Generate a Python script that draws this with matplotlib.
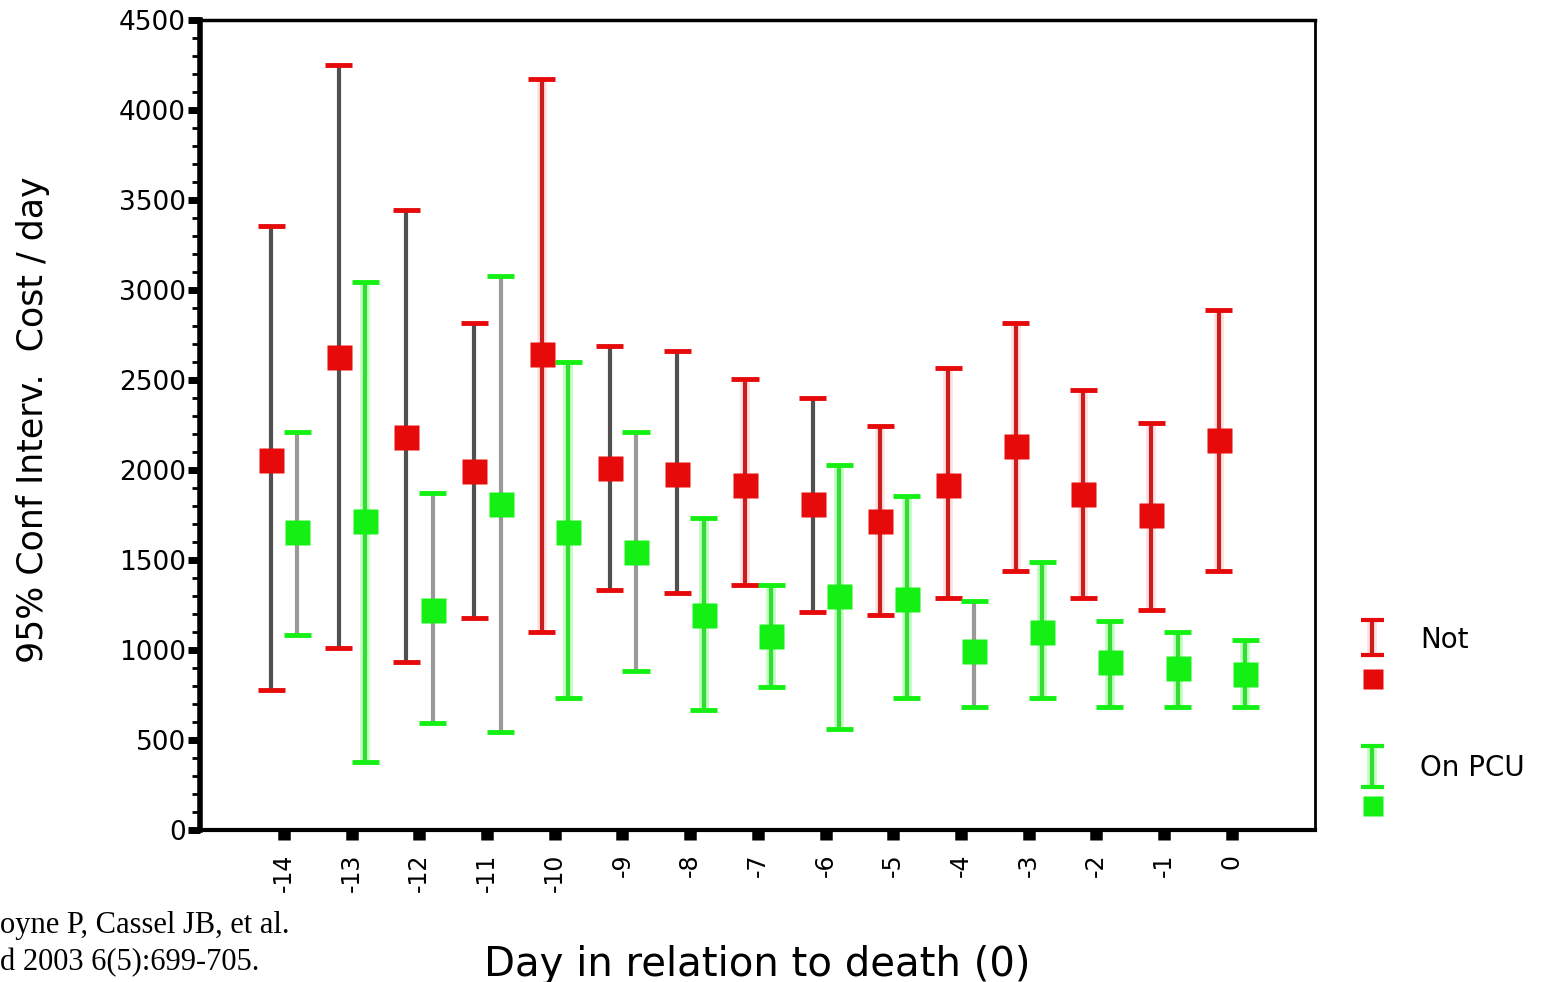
import numpy as np
import matplotlib
matplotlib.use("Agg")
import matplotlib.pyplot as plt
import matplotlib.patheffects as pe

# days before death, 0 = day of death
days = [-14, -13, -12, -11, -10, -9, -8, -7, -6, -5, -4, -3, -2, -1, 0]

# "Not" group: mean cost/day and 95% CI
not_mean = [2056, 2630, 2181, 1996, 2643, 2009, 1978, 1917, 1809, 1719, 1917, 2135, 1865, 1748, 2165]
not_lo = [777, 1011, 931, 1176, 1098, 1331, 1315, 1363, 1209, 1193, 1287, 1441, 1287, 1224, 1441]
not_hi = [3356, 4248, 3444, 2815, 4170, 2691, 2659, 2504, 2398, 2243, 2565, 2815, 2443, 2259, 2889]

# "On PCU" group
pcu_mean = [1656, 1717, 1222, 1809, 1656, 1546, 1193, 1076, 1300, 1283, 993, 1102, 931, 898, 868]
pcu_lo = [1083, 376, 593, 543, 732, 885, 667, 793, 559, 731, 681, 731, 681, 681, 681]
pcu_hi = [2209, 3043, 1870, 3076, 2600, 2209, 1731, 1363, 2026, 1856, 1270, 1487, 1161, 1098, 1054]

# days whose CI line came out grey in the original export
not_grey_days = [-14, -13, -12, -11, -9, -8, -6]
pcu_grey_days = [-14, -12, -11, -9, -4]

series_labels = ["Not", "On PCU"]
y_ticks = [0, 500, 1000, 1500, 2000, 2500, 3000, 3500, 4000, 4500]

RED = "#e60a0a"
RED_LINE = "#c81e1e"
RED_HALO = "#ffe0e0"
GREEN = "#14f014"
GREEN_LINE = "#33dd33"
GREEN_HALO = "#c0ffc0"
DARK_GREY = "#505050"
LIGHT_GREY = "#999999"

fig = plt.figure(figsize=(15.52, 9.82), dpi=100)
ax = fig.add_axes([200 / 1552, 1 - 830 / 982, 1115 / 1552, 810 / 982])

x = np.array(days, dtype=float)


def draw_group(xs, mean, lo, hi, grey_days, color, line_color, halo, grey):
    for xi, d, m, l, h in zip(xs, days, mean, lo, hi):
        if d in grey_days:
            ax.vlines(xi, l, h, colors=grey, lw=3, zorder=2)
        else:
            ln = ax.vlines(xi, l, h, colors=line_color, lw=3, zorder=2)
            ln.set_path_effects([pe.Stroke(linewidth=7, foreground=halo), pe.Normal()])
        ax.hlines([l, h], xi - 0.2, xi + 0.2, colors=color, lw=3.5, zorder=3)
    ax.plot(xs, mean, "s", ms=18, color=color, mec="none", zorder=4)


draw_group(x - 0.19, not_mean, not_lo, not_hi, not_grey_days, RED, RED_LINE, RED_HALO, DARK_GREY)
draw_group(x + 0.2, pcu_mean, pcu_lo, pcu_hi, pcu_grey_days, GREEN, GREEN_LINE, GREEN_HALO, LIGHT_GREY)

ax.set_xlim(-15.24, 1.23)
ax.set_ylim(0, 4500)

ax.set_xticks(days)
ax.set_xticklabels([str(d) for d in days], rotation=90, fontsize=17)
ax.set_yticks(y_ticks)
ax.set_yticklabels([str(v) for v in y_ticks], fontsize=19)
ax.set_yticks(np.arange(0, 4501, 100), minor=True)

ax.tick_params(axis="x", direction="out", length=7, width=9, pad=10, color="black")
ax.tick_params(axis="y", which="major", direction="out", length=9, width=5, pad=1)
ax.tick_params(axis="y", which="minor", direction="out", length=6, width=2)

ax.spines["left"].set_linewidth(4)
ax.spines["bottom"].set_linewidth(3)
ax.spines["top"].set_linewidth(2.5)
ax.spines["right"].set_linewidth(2)

ax.set_xlabel("Day in relation to death (0)", fontsize=29)
ax.xaxis.label.set_va("center")
ax.xaxis.set_label_coords(0.5, (830 - 965) / 810)

ax.set_ylabel("95% Conf Interv.  Cost / day", fontsize=25)
ax.yaxis.label.set_va("center")
ax.yaxis.set_label_coords((33 - 200) / 1115, (830 - 420) / 810)

# legend drawn to the right of the plot, in figure pixel space
lax = fig.add_axes([0, 0, 1, 1], zorder=-1)
lax.set_xlim(0, 1552)
lax.set_ylim(982, 0)
lax.axis("off")
legend_rows = [(620, 655, 679, 640, RED, RED_LINE, RED_HALO),
               (746, 787, 806, 768, GREEN, GREEN_LINE, GREEN_HALO)]
for label, (top, bot, sq, ty, col, lcol, halo) in zip(series_labels, legend_rows):
    ln = lax.vlines(1372, top, bot, colors=lcol, lw=3)
    ln.set_path_effects([pe.Stroke(linewidth=7, foreground=halo), pe.Normal()])
    lax.hlines([top, bot], 1361, 1384, colors=col, lw=3)
    lax.plot(1373, sq, "s", ms=15, color=col, mec="none")
    lax.text(1420, ty, label, fontsize=20, va="center", ha="left")

# cropped citation in the lower-left corner
fig.text(0, 1 - 925 / 982, "oyne P, Cassel JB, et al.", fontsize=22,
         family="Liberation Serif", va="center", ha="left")
fig.text(0, 1 - 963 / 982, "d 2003 6(5):699-705.", fontsize=22,
         family="Liberation Serif", va="center", ha="left")

fig.savefig("out.png", dpi=100)
